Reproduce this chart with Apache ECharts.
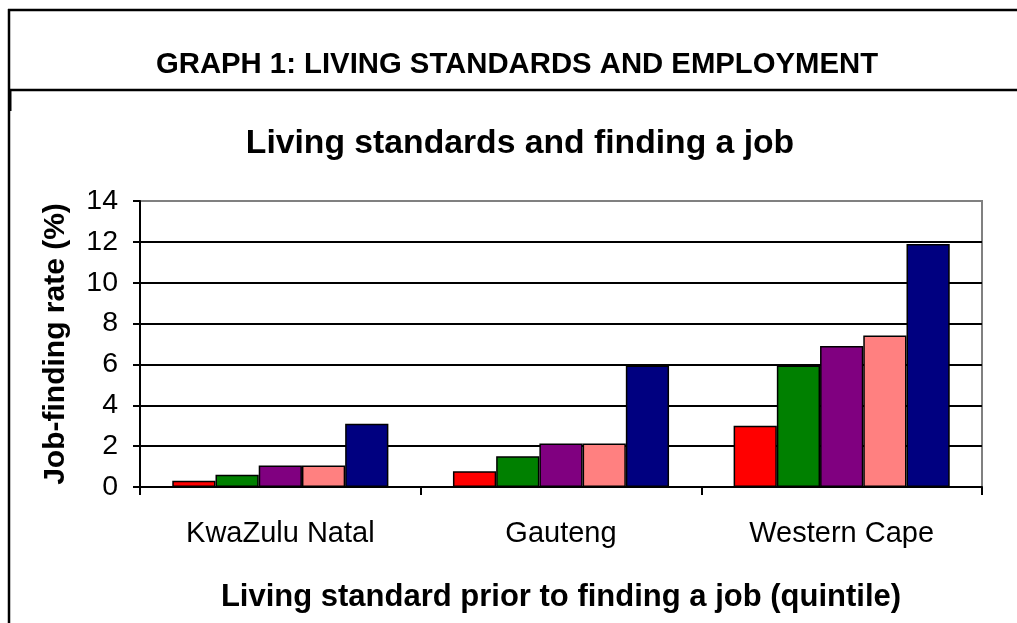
<!DOCTYPE html>
<html>
<head>
<meta charset="utf-8">
<script src="https://cdn.jsdelivr.net/npm/echarts@6/dist/echarts.min.js"></script>
<style>
  html, body { margin: 0; padding: 0; background: #fff; }
  .main { width: 1017px; height: 623px; }
</style>
</head>
<body>
<div id="chart" class="main"></div>
<script>
// categories on the x axis
const regions = ["KwaZulu Natal", "Gauteng", "Western Cape"];
// job-finding rate (%) per living standard quintile
const quintile1 = [0.3, 0.77, 3.0];
const quintile2 = [0.6, 1.5, 5.95];
const quintile3 = [1.05, 2.13, 6.9];
const quintile4 = [1.05, 2.13, 7.42];
const quintile5 = [3.1, 5.95, 11.9];
const quintileNames = ["Quintile 1", "Quintile 2", "Quintile 3", "Quintile 4", "Quintile 5"];
const quintileColors = ["#ff0000", "#008000", "#800080", "#ff8080", "#000080"];

const font = "'Liberation Sans', Arial, sans-serif";

const myChart = echarts.init(document.getElementById("chart"));

const seriesData = [quintile1, quintile2, quintile3, quintile4, quintile5];
const series = seriesData.map((values, i) => ({
  name: quintileNames[i],
  type: "bar",
  barGap: "0%",
  barCategoryGap: "23%",
  itemStyle: {
    color: quintileColors[i],
    borderColor: "#000",
    borderWidth: 1.5,
  },
  data: values,
}));

const option = {
  backgroundColor: "#fff",
  animation: false,
  title: [
    {
      text: "GRAPH 1: LIVING STANDARDS AND EMPLOYMENT",
      left: 512,
      top: 45,
      textAlign: "center",
      textStyle: { fontFamily: font, fontSize: 29.3, fontWeight: "bold", color: "#000" },
    },
    {
      text: "Living standards and finding a job",
      left: 515,
      top: 122,
      textAlign: "center",
      textStyle: { fontFamily: font, fontSize: 33.7, fontWeight: "bold", color: "#000" },
    },
  ],
  // frame lines of the figure box
  graphic: [
    { type: "line", shape: { x1: 8, y1: 10, x2: 1017, y2: 10 }, style: { stroke: "#000", lineWidth: 2.5 } },
    { type: "line", shape: { x1: 9, y1: 9, x2: 9, y2: 623 }, style: { stroke: "#000", lineWidth: 2.5 } },
    { type: "line", shape: { x1: 8, y1: 90, x2: 1017, y2: 90 }, style: { stroke: "#000", lineWidth: 2.5 } },
    { type: "line", shape: { x1: 10, y1: 90, x2: 10, y2: 111 }, style: { stroke: "#000", lineWidth: 3 } },
  ],
  grid: {
    left: 140,
    right: 35,
    top: 201,
    bottom: 136,
    show: true,
    borderColor: "#808080",
    borderWidth: 2,
  },
  xAxis: {
    type: "category",
    data: regions,
    name: "Living standard prior to finding a job (quintile)",
    nameLocation: "middle",
    nameGap: 95,
    nameTextStyle: { fontFamily: font, fontSize: 31, fontWeight: "bold", color: "#000" },
    axisLine: { lineStyle: { color: "#000", width: 2 } },
    axisTick: { show: true, interval: 0, length: 8, lineStyle: { color: "#000", width: 2 } },
    axisLabel: { fontFamily: font, fontSize: 29, color: "#000", margin: 32, interval: 0 },
  },
  yAxis: {
    type: "value",
    min: 0,
    max: 14,
    interval: 2,
    name: "Job-finding rate (%)",
    nameLocation: "middle",
    nameGap: 69,
    nameRotate: 90,
    nameTextStyle: { fontFamily: font, fontSize: 30, fontWeight: "bold", color: "#000" },
    axisLine: { show: true, lineStyle: { color: "#000", width: 2 } },
    axisTick: { show: true, length: 7, lineStyle: { color: "#000", width: 2 } },
    axisLabel: { fontFamily: font, fontSize: 28.5, color: "#000", margin: 22 },
    splitLine: {
      show: true,
      lineStyle: {
        color: ["#000", "#000", "#000", "#000", "#000", "#000", "#000", "#808080"],
        width: 2,
      },
    },
  },
  series: series,
};

option && myChart.setOption(option);
</script>
</body>
</html>
